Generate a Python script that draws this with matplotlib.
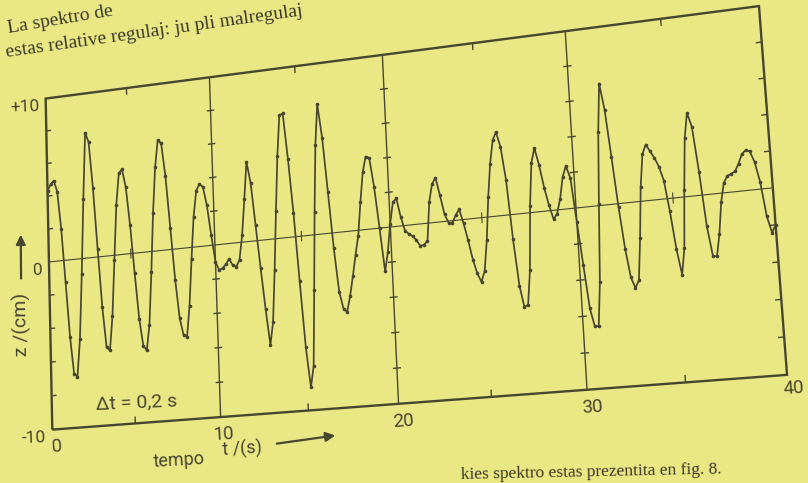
import numpy as np
import matplotlib
matplotlib.use("Agg")
import matplotlib.pyplot as plt
import matplotlib.transforms as mtransforms

# ----------------------------------------------------------
# data: wave record z(t), sampled every 0.2 s (read off the figure)
# ----------------------------------------------------------
DT = 0.2
Z_CM = [
    4.3, 4.7, 4.9, 4.2, 1.9, -1.3, -4.6, -6.8, -7.0, -4.8,
    -0.9, 3.6, 7.6, 7.0, 4.2, 0.5, -3.0, -5.4, -5.6, -3.6,
    -0.3, 3.0, 4.9, 5.1, 4.0, 1.7, -1.2, -3.9, -5.5, -5.8,
    -4.3, -1.2, 2.3, 5.0, 6.6, 6.4, 4.4, 1.3, -1.8, -4.1,
    -5.1, -5.2, -3.4, -0.7, 1.8, 3.3, 3.7, 3.5, 2.4, 0.6,
    -1.0, -1.5, -1.4, -1.2, -0.9, -1.3, -1.4, -1.0, 0.4, 2.5,
    4.7, 3.4, 0.9, -1.6, -4.0, -6.1, -4.8, -1.8, 1.6, 4.8,
    7.2, 7.3, 4.6, 1.4, -2.6, -6.4, -8.7, -7.5, -3.2, 1.3,
    5.2, 7.6, 5.6, 2.4, -0.9, -3.4, -4.4, -4.6, -3.7, -2.6,
    -1.4, -0.3, 1.6, 3.3, 4.2, 4.1, 2.4, 0.0, -2.5, -1.4,
    0.2, 1.4, 1.6, 0.5, -0.3, -0.5, -0.65, -0.9, -1.25, -1.2,
    -1.0, 1.2, 2.2, 2.55, 1.5, 0.4, -0.1, -0.15, 0.3, 0.6,
    -0.2, -1.2, -2.3, -3.1, -3.6, -3.0, -1.3, 1.1, 3.0, 4.3,
    4.75, 3.9, 2.0, -1.4, -4.0, -5.2, -5.1, -3.2, 0.4, 2.8,
    3.6, 2.6, 1.3, 0.3, -0.5, -0.2, 0.6, 1.8, 2.4, 1.7,
    -0.8, -3.2, -5.6, -6.6, -6.6, -4.2, 0.1, 4.1, 6.8, 5.3,
    2.6, -0.2, -2.5, -4.1, -4.7, -4.3, -2.0, 0.8, 2.6, 3.1,
    2.7, 2.3, 1.8, 1.0, -0.7, -2.8, -4.2, -2.8, 0.4, 3.2,
    4.6, 3.8, 1.3, -1.7, -3.35, -3.4, -2.2, -0.5, 0.55, 0.9,
    1.0, 1.1, 1.5, 2.0, 2.2, 2.1, 1.5, 0.4, -1.5, -2.4,
    -2.0,
]
T_LABELS = [0, 10, 20, 30, 40]
GRID_T = [10, 20, 30]
MINOR_T = [5, 15, 25, 35]
Z_MARKS = [-8, -6, -4, -2, 2, 4, 6, 8]
Z_LABELS = ["-10", "0", "+10"]
Z_LABEL_POS = [-10, 0, 10]

PAPER = "#eae884"
INK = "#47462f"

# the page was photographed at an angle: where the frame ended up in the photo
# (data point -> pixel, y measured from the top of the image)
FRAME_SRC = [(0, -10), (10, -10), (20, -10), (30, -10), (40, -10),
             (40, 10), (30, 10), (20, 10), (10, 10), (0, 10), (0, 0), (40, 0)]
FRAME_PX = [(53, 428), (218, 417), (397, 401), (590, 389), (787, 377),
            (756, 8), (568, 30), (383, 52), (208, 75), (46, 100), (50, 267), (773, 189)]

W, H = 808, 483


class PageWarp(mtransforms.Transform):
    """projective warp in display (pixel) space"""
    input_dims = 2
    output_dims = 2

    def __init__(self, mat):
        super().__init__()
        self.mat = mat

    def transform_non_affine(self, values):
        xy = np.asarray(values, float).reshape(-1, 2)
        p = np.column_stack([xy, np.ones(len(xy))]) @ self.mat.T
        return p[:, :2] / p[:, 2:3]


def fit_homography(src, dst, s=1000.0):
    src = np.asarray(src, float) / s
    dst = np.asarray(dst, float) / s
    rows = []
    for (x, y), (u, v) in zip(src, dst):
        rows.append([x, y, 1, 0, 0, 0, -u * x, -u * y, -u])
        rows.append([0, 0, 0, x, y, 1, -v * x, -v * y, -v])
    _, _, vt = np.linalg.svd(np.array(rows))
    m = vt[-1].reshape(3, 3)
    S = np.diag([s, s, 1.0])
    Si = np.diag([1 / s, 1 / s, 1.0])
    return S @ m @ Si


fig = plt.figure(figsize=(W / 100, H / 100), dpi=100, facecolor=PAPER)
ax = fig.add_axes([0, 0, 1, 1])
ax.set_xlim(0, 40)
ax.set_ylim(-10, 10)
ax.set_axis_off()
ax.patch.set_visible(False)

src_disp = ax.transData.transform(np.array(FRAME_SRC, float))
dst_disp = np.array([(x, H - y) for x, y in FRAME_PX], float)
tr = ax.transData + PageWarp(fit_homography(src_disp, dst_disp))

kw = dict(transform=tr, color=INK, clip_on=False, solid_capstyle="butt")

# frame
ax.plot([0, 40, 40, 0, 0], [-10, -10, 10, 10, -10], lw=1.7, solid_joinstyle="miter", **kw)
# zero line + gridlines
ax.plot([0, 40], [0, 0], lw=0.8, **kw)
for t in GRID_T:
    ax.plot([t, t], [-10, 10], lw=1.0, **kw)
    for z in Z_MARKS:
        ax.plot([t - 0.22, t + 0.22], [z, z], lw=1.0, **kw)
# ticks
for z in Z_MARKS:
    ax.plot([0, 0.3], [z, z], lw=1.0, **kw)
    ax.plot([39.7, 40], [z, z], lw=1.0, **kw)
for t in MINOR_T:
    ax.plot([t, t], [-10, -9.6], lw=1.0, **kw)
    ax.plot([t, t], [9.6, 10], lw=1.0, **kw)
    ax.plot([t, t], [-0.3, 0.3], lw=0.8, **kw)

# the record
t_s = np.round(np.arange(len(Z_CM)) * DT, 1)
ax.plot(t_s, Z_CM, lw=1.25, marker="o", ms=1.6, **kw)

# labels
txt = dict(transform=tr, color=INK, family=["Roboto", "DejaVu Sans"])
for lab, z in zip(Z_LABELS, Z_LABEL_POS):
    ax.text(-0.4, z - 0.45, lab, ha="right", va="center", fontsize=12.5, rotation=2, **txt)
for t in T_LABELS[:-1]:
    dx = 0.15 if t == 10 else 0.25
    ax.text(t + dx, -10.45, str(t), ha="center", va="top", fontsize=13.5, rotation=3.5, **txt)
ax.text(40.3, -10.25, str(T_LABELS[-1]), ha="center", va="top", fontsize=13.5, rotation=3.5, **txt)
ax.text(5.1, -8.8, "Δt = 0,2 s", ha="center", va="center", fontsize=14, rotation=2.5, **txt)
ax.text(7.5, -12.3, "tempo", ha="center", va="center", fontsize=13, rotation=3.5, **txt)
ax.text(11.2, -11.9, "t /(s)", ha="center", va="center", fontsize=13, rotation=3.5, **txt)
ax.annotate("", xy=(16.6, -11.5), xytext=(13.0, -11.75), xycoords=tr, textcoords=tr,
            arrowprops=dict(arrowstyle="-|>", color=INK, lw=1.6, mutation_scale=14))
ax.text(-1.75, -3.6, "z /(cm)", ha="center", va="center", fontsize=14, rotation=91, **txt)
ax.annotate("", xy=(-1.72, 2.0), xytext=(-1.75, -1.0), xycoords=tr, textcoords=tr,
            arrowprops=dict(arrowstyle="-|>", color=INK, lw=1.6, mutation_scale=14))

# surrounding book text
page = dict(color="#3b3a2a", family="Liberation Serif", fontsize=14,
            ha="left", va="baseline", rotation_mode="anchor")
fig.text(8 / W, 1 - 33 / H, "La spektro de", rotation=9.5, **page)
fig.text(6 / W, 1 - 57 / H, "estas relative regulaj: ju pli malregulaj", rotation=8, **page)
page.update(ha="right", fontsize=12.5)
fig.text(722 / W, 1 - 474 / H, "kies spektro estas prezentita en fig. 8.",
         rotation=1.2, **page)

fig.savefig("out.png", dpi=100, facecolor=PAPER)
